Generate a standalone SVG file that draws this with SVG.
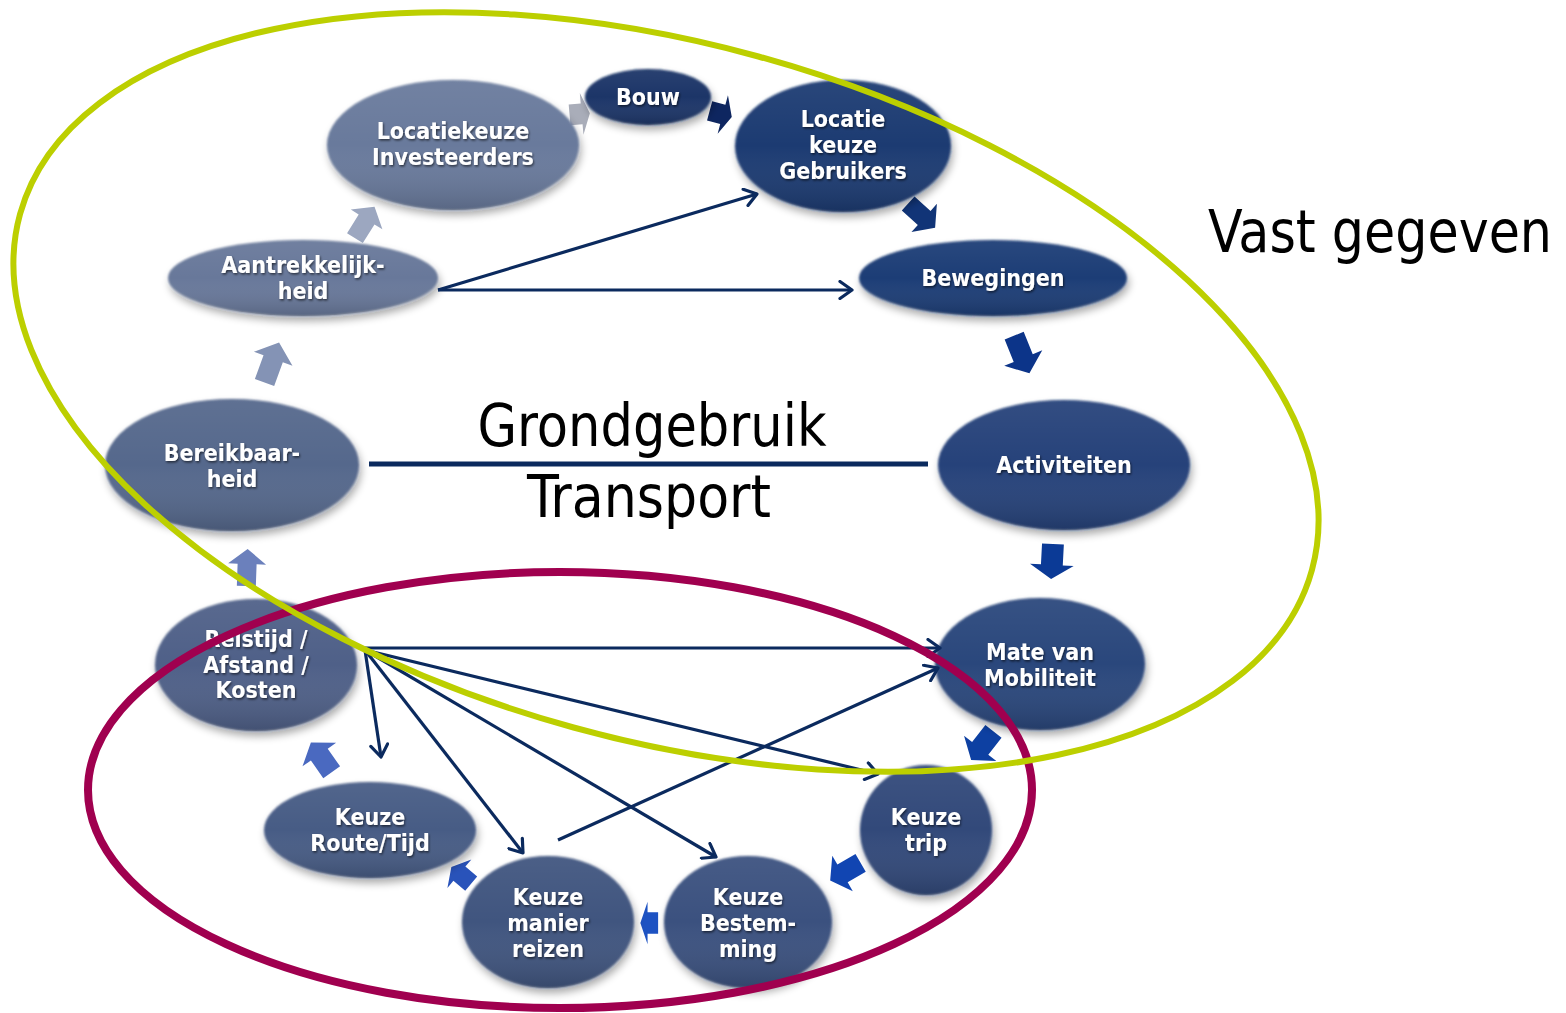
<svg xmlns="http://www.w3.org/2000/svg" width="1566" height="1013" viewBox="0 0 1566 1013">
<style>
.lbl{font-family:"DejaVu Sans Condensed","DejaVu Sans",sans-serif;font-stretch:condensed;font-weight:bold;font-size:23px;fill:#ffffff;text-anchor:middle;filter:url(#tsh)}
.big{font-family:"DejaVu Sans Condensed","DejaVu Sans",sans-serif;font-stretch:condensed;font-size:58px;fill:#000000}
.con{fill:none;stroke:#0b2a5e;stroke-width:3.2;marker-end:url(#open)}
.shade{fill:url(#shade)}
</style>
<defs>
<linearGradient id="shade" x1="0" y1="0" x2="0" y2="1">
<stop offset="0" stop-color="#ffffff" stop-opacity="0.06"/>
<stop offset="0.5" stop-color="#ffffff" stop-opacity="0"/>
<stop offset="1" stop-color="#000000" stop-opacity="0.16"/>
</linearGradient>
<linearGradient id="ashade" x1="0" y1="0" x2="0" y2="1">
<stop offset="0" stop-color="#ffffff" stop-opacity="0.12"/>
<stop offset="1" stop-color="#000000" stop-opacity="0.12"/>
</linearGradient>
<filter id="nsh" x="-20%" y="-20%" width="140%" height="150%">
<feGaussianBlur in="SourceAlpha" stdDeviation="4" result="b"/>
<feOffset dx="2" dy="5" result="o"/>
<feComponentTransfer in="o" result="s"><feFuncA type="linear" slope="0.35"/></feComponentTransfer>
<feGaussianBlur in="SourceGraphic" stdDeviation="1.2" result="g"/>
<feMerge><feMergeNode in="s"/><feMergeNode in="g"/></feMerge>
</filter>
<filter id="tsh" x="-10%" y="-30%" width="120%" height="160%">
<feDropShadow dx="1" dy="1.5" stdDeviation="1.2" flood-color="#000" flood-opacity="0.6"/>
</filter>
<marker id="open" viewBox="0 0 16 20" refX="14" refY="10" markerWidth="16" markerHeight="20" markerUnits="userSpaceOnUse" orient="auto">
<path d="M2,1.5 L14,10 L2,18.5" fill="none" stroke="#0b2a5e" stroke-width="3.2" stroke-linecap="round" stroke-linejoin="round"/>
</marker>
<path id="blk" d="M-19,-9.5 L3,-9.5 L3,-19 L18,0 L3,19 L3,9.5 L-19,9.5 Z"/>
</defs>

<g id="block-arrows">
<use href="#blk" fill="#a9adb9" transform="translate(580,114) rotate(-5) scale(0.55,1.1)"/>
<use href="#blk" fill="#0e2660" transform="translate(721,114) rotate(15) scale(0.62,1.05)"/>
<use href="#blk" fill="#113477" transform="translate(922,216) rotate(42) scale(0.98,1)"/>
<use href="#blk" fill="#0c3489" transform="translate(1022,355) rotate(68) scale(1.1,1.08)"/>
<use href="#blk" fill="#0b3a96" transform="translate(1052,562) rotate(93) scale(0.95,1.15)"/>
<use href="#blk" fill="#0d40a2" transform="translate(982,746) rotate(128) scale(0.98,1.08)"/>
<use href="#blk" fill="#1145b2" transform="translate(845,872) rotate(150) scale(0.95,1.08)"/>
<use href="#blk" fill="#1d52c2" transform="translate(649,923) rotate(180) scale(0.48,1.12)"/>
<use href="#blk" fill="#2953ba" transform="translate(461,875) rotate(-140) scale(0.7,0.98)"/>
<use href="#blk" fill="#4a69c0" transform="translate(321,757) rotate(-125) scale(0.98,1.08)"/>
<use href="#blk" fill="#6b80bc" transform="translate(247,567) rotate(-88) scale(1,1)"/>
<use href="#blk" fill="#8493b5" transform="translate(272,362) rotate(-70) scale(1.15,1.08)"/>
<use href="#blk" fill="#9ca7c0" transform="translate(365,222) rotate(-58) scale(1,0.98)"/>
</g>

<g id="node-investeerders">
<ellipse cx="453" cy="145" rx="126" ry="65" fill="#697a9c" filter="url(#nsh)"/>
<ellipse class="shade" cx="453" cy="145" rx="126" ry="65"/>
<text class="lbl" x="453" y="139">Locatiekeuze</text>
<text class="lbl" x="453" y="165">Investeerders</text>
</g>
<g id="node-bouw">
<ellipse cx="648" cy="97" rx="63" ry="28" fill="#1a3567" filter="url(#nsh)"/>
<ellipse class="shade" cx="648" cy="97" rx="63" ry="28"/>
<text class="lbl" x="648" y="105">Bouw</text>
</g>
<g id="node-gebruikers">
<ellipse cx="843" cy="146" rx="108" ry="66" fill="#1c3a72" filter="url(#nsh)"/>
<ellipse class="shade" cx="843" cy="146" rx="108" ry="66"/>
<text class="lbl" x="843" y="127">Locatie</text>
<text class="lbl" x="843" y="153">keuze</text>
<text class="lbl" x="843" y="179">Gebruikers</text>
</g>
<g id="node-bewegingen">
<ellipse cx="993" cy="278" rx="134" ry="38" fill="#1f3d76" filter="url(#nsh)"/>
<ellipse class="shade" cx="993" cy="278" rx="134" ry="38"/>
<text class="lbl" x="993" y="286">Bewegingen</text>
</g>
<g id="node-activiteiten">
<ellipse cx="1064" cy="465" rx="126" ry="65" fill="#26427a" filter="url(#nsh)"/>
<ellipse class="shade" cx="1064" cy="465" rx="126" ry="65"/>
<text class="lbl" x="1064" y="473">Activiteiten</text>
</g>
<g id="node-mobiliteit">
<ellipse cx="1040" cy="664" rx="105" ry="66" fill="#2c467b" filter="url(#nsh)"/>
<ellipse class="shade" cx="1040" cy="664" rx="105" ry="66"/>
<text class="lbl" x="1040" y="660">Mate van</text>
<text class="lbl" x="1040" y="686">Mobiliteit</text>
</g>
<g id="node-trip">
<ellipse cx="926" cy="830" rx="66" ry="65" fill="#334a7a" filter="url(#nsh)"/>
<ellipse class="shade" cx="926" cy="830" rx="66" ry="65"/>
<text class="lbl" x="926" y="825">Keuze</text>
<text class="lbl" x="926" y="851">trip</text>
</g>
<g id="node-bestemming">
<ellipse cx="748" cy="922" rx="84" ry="66" fill="#3b517f" filter="url(#nsh)"/>
<ellipse class="shade" cx="748" cy="922" rx="84" ry="66"/>
<text class="lbl" x="748" y="905">Keuze</text>
<text class="lbl" x="748" y="931">Bestem-</text>
<text class="lbl" x="748" y="957">ming</text>
</g>
<g id="node-manier">
<ellipse cx="548" cy="922" rx="86" ry="66" fill="#40557f" filter="url(#nsh)"/>
<ellipse class="shade" cx="548" cy="922" rx="86" ry="66"/>
<text class="lbl" x="548" y="905">Keuze</text>
<text class="lbl" x="548" y="931">manier</text>
<text class="lbl" x="548" y="957">reizen</text>
</g>
<g id="node-route">
<ellipse cx="370" cy="830" rx="106" ry="48" fill="#475b85" filter="url(#nsh)"/>
<ellipse class="shade" cx="370" cy="830" rx="106" ry="48"/>
<text class="lbl" x="370" y="825">Keuze</text>
<text class="lbl" x="370" y="851">Route/Tijd</text>
</g>
<g id="node-reistijd">
<ellipse cx="256" cy="665" rx="101" ry="66" fill="#4f6188" filter="url(#nsh)"/>
<ellipse class="shade" cx="256" cy="665" rx="101" ry="66"/>
<text class="lbl" x="256" y="647">Reistijd /</text>
<text class="lbl" x="256" y="673">Afstand /</text>
<text class="lbl" x="256" y="698">Kosten</text>
</g>
<g id="node-bereikbaarheid">
<ellipse cx="232" cy="465" rx="127" ry="66" fill="#55678c" filter="url(#nsh)"/>
<ellipse class="shade" cx="232" cy="465" rx="127" ry="66"/>
<text class="lbl" x="232" y="461">Bereikbaar-</text>
<text class="lbl" x="232" y="487">heid</text>
</g>
<g id="node-aantrekkelijkheid">
<ellipse cx="303" cy="278" rx="135" ry="38" fill="#68789a" filter="url(#nsh)"/>
<ellipse class="shade" cx="303" cy="278" rx="135" ry="38"/>
<text class="lbl" x="303" y="273">Aantrekkelijk-</text>
<text class="lbl" x="303" y="299">heid</text>
</g>

<g id="connectors">
<line x1="369" y1="464" x2="928" y2="464" stroke="#0b2a5e" stroke-width="5"/>
<line class="con" x1="438" y1="290" x2="757" y2="194"/>
<line class="con" x1="438" y1="290" x2="852" y2="290"/>
<line class="con" x1="365" y1="648" x2="940" y2="648"/>
<line class="con" x1="365" y1="650" x2="878" y2="774"/>
<line class="con" x1="365" y1="650" x2="716" y2="857"/>
<line class="con" x1="365" y1="650" x2="523" y2="853"/>
<line class="con" x1="365" y1="650" x2="381" y2="757"/>
<line class="con" x1="558" y1="840" x2="938" y2="668"/>
</g>

<g id="regions">
<ellipse cx="560" cy="790" rx="472" ry="218" fill="none" stroke="#a0004f" stroke-width="8"/>
<ellipse cx="666" cy="392" rx="670" ry="348" transform="rotate(15.4 666 392)" fill="none" stroke="#bccf00" stroke-width="6"/>
</g>

<g id="labels">
<text class="big" x="652" y="446" text-anchor="middle" textLength="349" lengthAdjust="spacingAndGlyphs">Grondgebruik</text>
<text class="big" x="649" y="517" text-anchor="middle" textLength="244" lengthAdjust="spacingAndGlyphs">Transport</text>
<text class="big" x="1208" y="252" textLength="344" lengthAdjust="spacingAndGlyphs">Vast gegeven</text>
</g>
</svg>
